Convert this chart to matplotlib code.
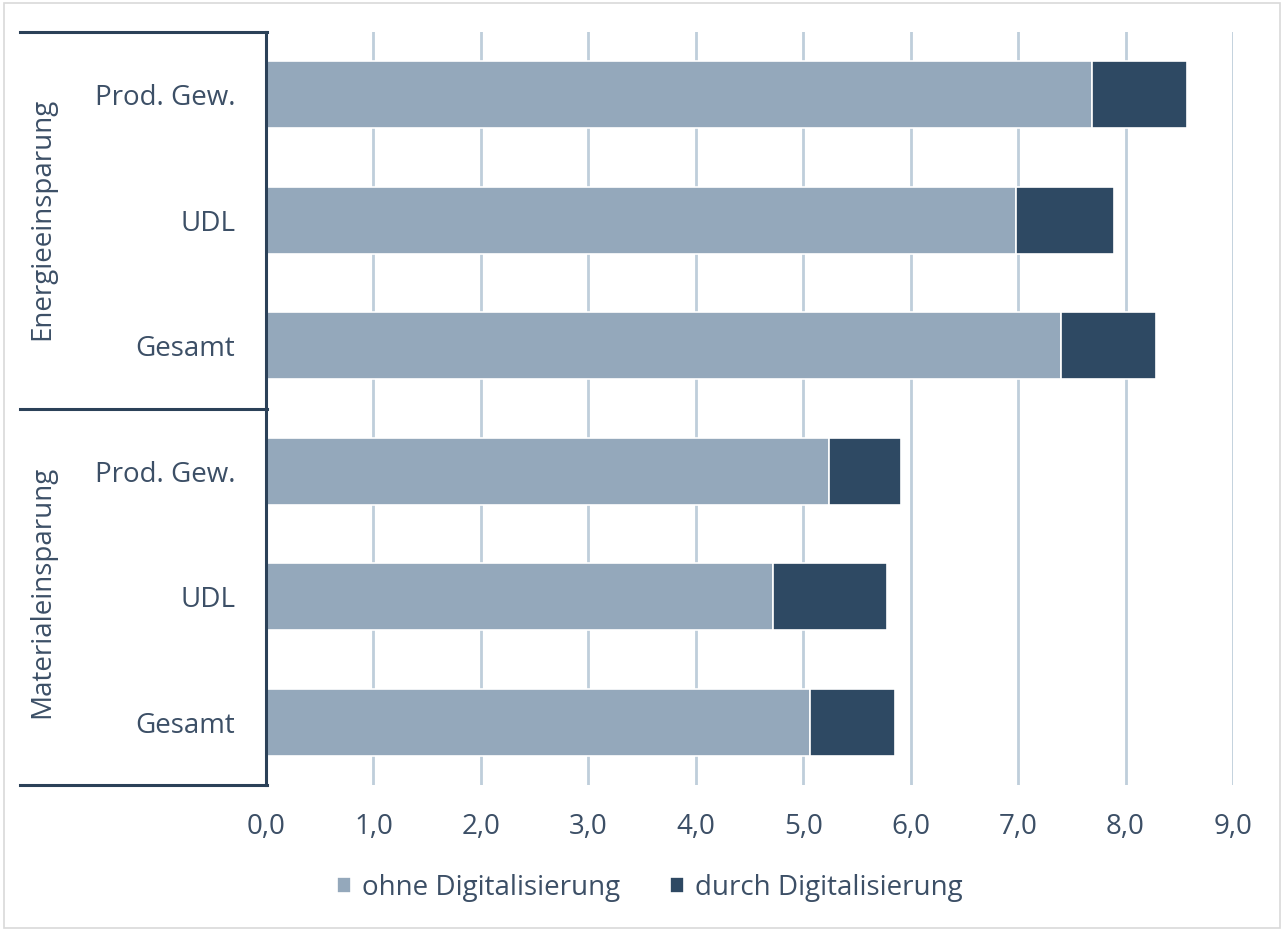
import matplotlib.pyplot as plt
from matplotlib.lines import Line2D
from matplotlib.patches import Rectangle

# Einsparungen nach Bereich, Werte in Prozent
groups = ['Energieeinsparung', 'Materialeinsparung']
categories = ['Prod. Gew.', 'UDL', 'Gesamt', 'Prod. Gew.', 'UDL', 'Gesamt']
ohne_digital = [7.69, 6.98, 7.40, 5.24, 4.72, 5.06]
durch_digital = [0.88, 0.91, 0.88, 0.67, 1.06, 0.79]
xticks = [0, 1, 2, 3, 4, 5, 6, 7, 8, 9]

text_col = '#3c4f66'
light = '#94a8bb'
dark = '#2e4963'
grid_col = '#bfcedb'
axis_col = '#2b4158'
fs = 20

plt.rcParams['font.family'] = ['Open Sans', 'DejaVu Sans']

fig = plt.figure(figsize=(12.82, 9.30), dpi=100)
W, H = 1282, 930
ax = fig.add_axes([266 / W, 1 - 785 / H, (1233 - 266) / W, (785 - 32) / H])

ypos = list(range(len(categories)))
ax.barh(ypos, ohne_digital, height=0.535, color=light, edgecolor='white',
        linewidth=1.2, label='ohne Digitalisierung', zorder=3)
ax.barh(ypos, durch_digital, left=ohne_digital, height=0.535, color=dark,
        edgecolor='white', linewidth=1.2, label='durch Digitalisierung', zorder=3)

ax.set_xlim(0, 9)
ax.set_ylim(len(categories) - 0.5, -0.5)
ax.set_xticks(xticks)
ax.xaxis.set_major_formatter(plt.FuncFormatter(lambda v, p: ('%.1f' % v).replace('.', ',')))
ax.tick_params(axis='x', length=0, pad=20, labelsize=fs, labelcolor=text_col)
ax.set_yticks(ypos)
ax.set_yticklabels(categories)
ax.tick_params(axis='y', length=0, pad=22, labelsize=fs, labelcolor=text_col)

ax.grid(axis='x', color=grid_col, linewidth=2, zorder=0)
ax.grid(axis='y', visible=False)
for side in ['top', 'right', 'bottom']:
    ax.spines[side].set_visible(False)
ax.spines['left'].set_color(axis_col)
ax.spines['left'].set_linewidth(2.2)
ax.spines['left'].set_zorder(4)

# Gruppenklammern links
for yy in [32, 409, 785]:
    fig.add_artist(Line2D([20 / W, 267 / W], [1 - yy / H, 1 - yy / H],
                          color=axis_col, linewidth=2.2))
for name, yc in zip(groups, [219, 592]):
    fig.text(42 / W, 1 - yc / H, name, rotation=90, ha='center', va='center',
             fontsize=fs, color=text_col)

leg = ax.legend(loc='center', bbox_to_anchor=(650 / W, 1 - 888 / H),
                bbox_transform=fig.transFigure, ncol=2, frameon=False,
                fontsize=fs, handlelength=0.5, handleheight=0.5, columnspacing=1.8,
                handletextpad=0.4)
for t in leg.get_texts():
    t.set_color(text_col)

fig.add_artist(Rectangle((4 / W, 2 / H), 1 - 6 / W, 1 - 5 / H, transform=fig.transFigure,
                         fill=False, edgecolor='#d9d9d9', linewidth=1.2))

fig.savefig('out.png', dpi=100)
